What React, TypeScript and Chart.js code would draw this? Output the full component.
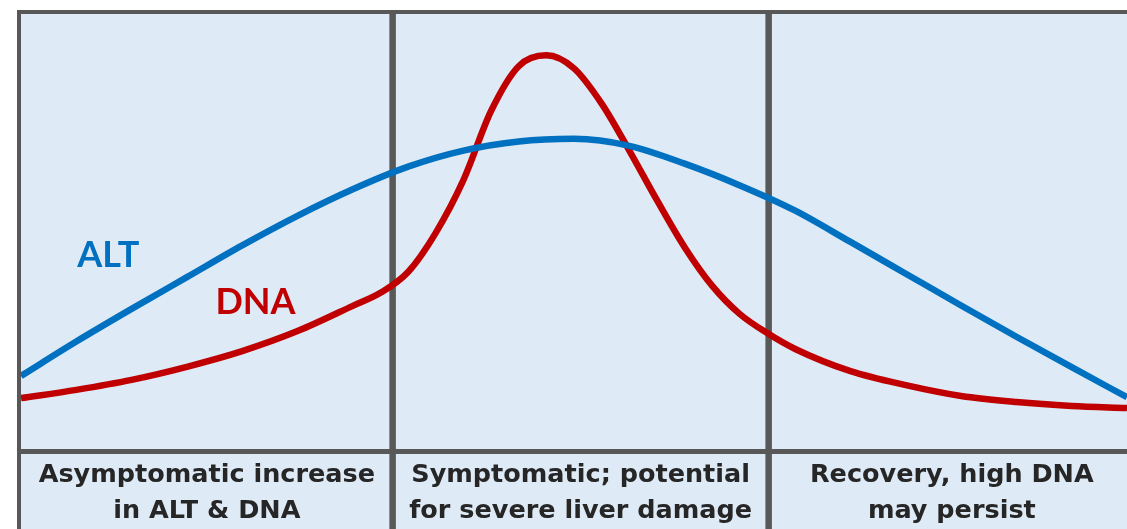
import React, { useEffect, useRef } from "react";
import { Chart, registerables } from "chart.js";

Chart.register(...registerables);

// Time (x, 0-100) and level (y, 0-100) readings
const altX = [0, 5, 10, 15, 20, 25, 30, 35, 40, 45, 50, 55, 60, 65, 70, 75, 80, 85, 90, 95, 100];
const altY = [16.8, 24.7, 32.2, 39.5, 46.8, 53.6, 59.7, 64.9, 68.6, 70.7, 71.3, 69.7, 65.6, 60.6, 54.8, 47.6, 40.3, 33.0, 25.8, 18.8, 11.9];

const dnaX = [0, 5, 10, 15, 20, 25, 30, 32.5, 35, 37.5, 40, 42.5, 45, 47.5, 50, 52.5, 55, 57.5, 60, 62.5, 65, 67.5, 70, 75, 80, 85, 90, 95, 100];
const dnaY = [11.7, 13.6, 15.9, 18.9, 22.5, 27.1, 32.9, 35.9, 40.7, 49.7, 61.8, 77.7, 88.0, 90.5, 87.5, 79.4, 68.6, 57.2, 46.4, 37.5, 31.0, 26.6, 23.0, 17.9, 14.7, 12.2, 10.8, 9.9, 9.4];

// Phase boundaries (x) and phase captions
const phaseBounds = [33.6, 67.6];
const phaseLines = [
  ["Asymptomatic increase", "in ALT & DNA"],
  ["Symptomatic; potential", "for severe liver damage"],
  ["Recovery, high DNA", "may persist"],
];

const seriesNames = ["ALT", "DNA"];
const seriesColors = ["#0070C0", "#C00000"];
// label anchor positions in data units
const labelX = [7.9, 21.2];
const labelY = [44.6, 33.6];

const BG = "#DEEAF6";
const GRID = "#585858";

const panelPlugin = {
  id: "panels",
  beforeDraw(chart: any) {
    const { ctx, width, height } = chart;
    ctx.save();
    ctx.fillStyle = "#ffffff";
    ctx.fillRect(0, 0, width, height);
    ctx.fillStyle = BG;
    ctx.fillRect(17, 10, width - 17, height - 10);
    ctx.restore();
  },
  beforeDatasetsDraw(chart: any) {
    const { ctx, width, height, chartArea } = chart;
    const xs = chart.scales.x;
    ctx.save();
    ctx.strokeStyle = GRID;
    ctx.lineWidth = 4;
    ctx.beginPath();
    ctx.moveTo(17, 12);
    ctx.lineTo(width, 12);
    ctx.stroke();
    ctx.beginPath();
    ctx.moveTo(19, 10);
    ctx.lineTo(19, height);
    ctx.stroke();
    ctx.lineWidth = 5;
    ctx.beginPath();
    ctx.moveTo(17, chartArea.bottom + 2.5);
    ctx.lineTo(width, chartArea.bottom + 2.5);
    ctx.stroke();
    ctx.lineWidth = 6.5;
    phaseBounds.forEach((b) => {
      const px = xs.getPixelForValue(b);
      ctx.beginPath();
      ctx.moveTo(px, 10);
      ctx.lineTo(px, height);
      ctx.stroke();
    });
    ctx.restore();
  },
  afterDatasetsDraw(chart: any) {
    const { ctx, width, chartArea } = chart;
    const xs = chart.scales.x;
    const ys = chart.scales.y;
    ctx.save();
    ctx.font = "bold 36px Lato";
    ctx.textAlign = "center";
    ctx.textBaseline = "middle";
    seriesNames.forEach((n, i) => {
      ctx.fillStyle = seriesColors[i];
      ctx.fillText(n, xs.getPixelForValue(labelX[i]), ys.getPixelForValue(labelY[i]));
    });
    const edges = [chartArea.left, ...phaseBounds.map((b) => xs.getPixelForValue(b)), width + 8];
    ctx.fillStyle = "#262626";
    ctx.font = "bold 25.5px 'DejaVu Sans'";
    phaseLines.forEach((lines, i) => {
      const cx = (edges[i] + edges[i + 1]) / 2;
      lines.forEach((t, j) => {
        ctx.fillText(t, cx, chartArea.bottom + 26 + j * 36);
      });
    });
    ctx.restore();
  },
};

export default function App() {
  const ref = useRef<HTMLCanvasElement | null>(null);
  useEffect(() => {
    document.body.style.margin = "0";
    const canvas = ref.current!;
    const chart = new Chart(canvas, {
      type: "line",
      data: {
        datasets: [
          {
            label: seriesNames[0],
            data: altX.map((x, i) => ({ x, y: altY[i] })),
            borderColor: seriesColors[0],
            borderWidth: 6.5,
            pointRadius: 0,
            cubicInterpolationMode: "monotone",
            fill: false,
          },
          {
            label: seriesNames[1],
            data: dnaX.map((x, i) => ({ x, y: dnaY[i] })),
            borderColor: seriesColors[1],
            borderWidth: 6.5,
            pointRadius: 0,
            cubicInterpolationMode: "monotone",
            fill: false,
          },
        ],
      },
      options: {
        animation: false,
        responsive: false,
        layout: { padding: { left: 21, top: 14, right: 0, bottom: 80 } },
        plugins: { legend: { display: false }, tooltip: { enabled: false } },
        scales: {
          x: { type: "linear", min: 0, max: 100, display: false },
          y: { type: "linear", min: 0, max: 100, display: false },
        },
      },
      plugins: [panelPlugin],
    } as any);
    return () => chart.destroy();
  }, []);
  return <canvas ref={ref} width={1127} height={529} style={{ display: "block" }} />;
}
